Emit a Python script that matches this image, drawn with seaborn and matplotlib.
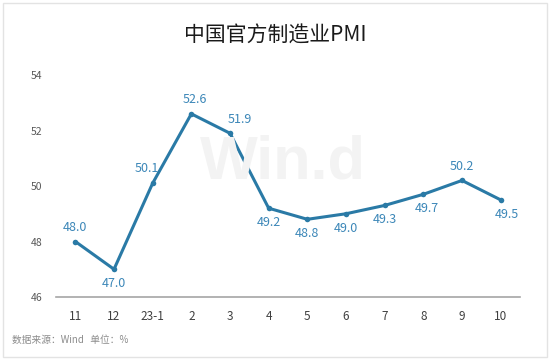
import numpy as np
import pandas as pd
import matplotlib
matplotlib.use("Agg")
import matplotlib.pyplot as plt
import seaborn as sns
from matplotlib.patches import Rectangle

# 数据
months = ["11", "12", "23-1", "2", "3", "4", "5", "6", "7", "8", "9", "10"]
pmi = [48.0, 47.0, 50.1, 52.6, 51.9, 49.2, 48.8, 49.0, 49.3, 49.7, 50.2, 49.5]
# label offset direction: 1 = above, -1 = below
label_side = [1, -1, 1, 1, 1, -1, -1, -1, -1, -1, 1, -1]
label_dx = [0, 0, -0.15, 0.1, 0.25, 0, 0, 0, 0, 0.1, 0, 0.15]
y_ticks = [46, 48, 50, 52, 54]

sns.set_theme(style="white")
plt.rcParams["font.family"] = ["Noto Sans CJK SC", "DejaVu Sans"]
plt.rcParams["axes.unicode_minus"] = False

line_color = "#2a7aa6"
label_color = "#3c87b8"

df = pd.DataFrame({"pos": np.arange(len(months)), "pmi": pmi})

fig = plt.figure(figsize=(5.5, 3.63), dpi=100)
ax = fig.add_axes([56 / 550, 1 - 297 / 363, 464 / 550, 222 / 363])

# 背景水印
fig.text(283 / 550, 1 - 163 / 363, "Win.d", fontsize=44, fontweight="bold",
         color="#f3f3f3", ha="center", va="center", family="Liberation Sans",
         zorder=0)

sns.lineplot(data=df, x="pos", y="pmi", ax=ax, color=line_color, linewidth=2.2,
             marker="o", markersize=4, markeredgewidth=0)

for i, (v, s, dx) in enumerate(zip(pmi, label_side, label_dx)):
    ax.text(i + dx, v + s * 0.28, f"{v:.1f}", ha="center",
            va="bottom" if s > 0 else "top", fontsize=9, color=label_color)

ax.set_xlim(-0.5, len(months) - 0.5)
ax.set_ylim(46, 54)
ax.set_yticks(y_ticks)
ax.set_yticklabels([str(t) for t in y_ticks], fontsize=7.5, color="#595959")
ax.set_xticks(np.arange(len(months)))
ax.set_xticklabels(months, fontsize=8.5, color="#404040")
ax.tick_params(axis="both", length=0)
ax.tick_params(axis="x", pad=9)
ax.tick_params(axis="y", pad=10)
ax.set_xlabel("")
ax.set_ylabel("")
ax.patch.set_alpha(0)
for side in ["top", "right", "left"]:
    ax.spines[side].set_visible(False)
ax.spines["bottom"].set_color("#a6a6a6")
ax.spines["bottom"].set_linewidth(1.2)
ax.grid(False)

fig.text(0.5, 1 - 36 / 363, "中国官方制造业PMI", ha="center", va="center",
         fontsize=15, color="#1a1a1a")
fig.text(12 / 550, 1 - 340 / 363, "数据来源：Wind   单位：%", ha="left",
         va="center", fontsize=7, color="#8c8c8c")

# 外框
fig.patches.append(Rectangle((3 / 550, 1 - 357 / 363), 544 / 550, 354 / 363,
                             transform=fig.transFigure, fill=False,
                             edgecolor="#e3e3e3", linewidth=1))

fig.savefig("out.png", dpi=100)
